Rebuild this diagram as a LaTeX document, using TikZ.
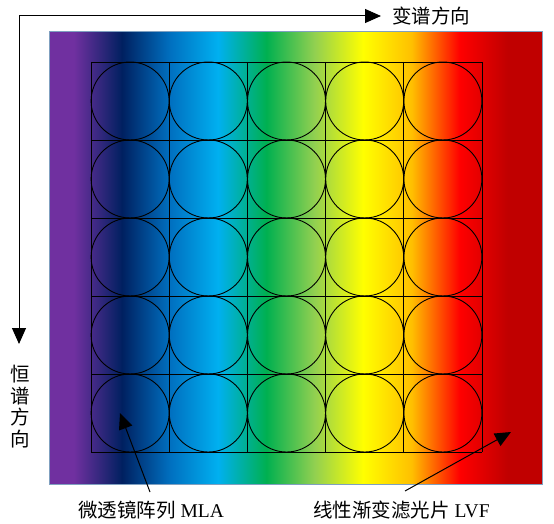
\documentclass[tikz,border=0pt]{standalone}
\usepackage{fontspec}
\setmainfont{Liberation Serif}
\newfontfamily\cjk{Noto Sans CJK SC}
\usetikzlibrary{arrows.meta}
\definecolor{cpurple}{HTML}{7030A0}
\definecolor{cnavy}{HTML}{002060}
\definecolor{cblue}{HTML}{0070C0}
\definecolor{clblue}{HTML}{00B0F0}
\definecolor{cgreen}{HTML}{00B050}
\definecolor{clgreen}{HTML}{92D050}
\definecolor{cyellow}{HTML}{FFFF00}
\definecolor{corange}{HTML}{FFC000}
\definecolor{cred}{HTML}{FF0000}
\definecolor{cdred}{HTML}{C00000}
\definecolor{framec}{HTML}{7FA0C0}
\pgfdeclarehorizontalshading{lvf}{100bp}{color(0bp)=(cpurple); color(27.5bp)=(cpurple); color(32.4bp)=(cnavy); color(37.3bp)=(cblue); color(42.15bp)=(clblue); color(47.05bp)=(cgreen); color(51.95bp)=(clgreen); color(56.85bp)=(cyellow); color(61.75bp)=(corange); color(66.65bp)=(cred); color(71.5bp)=(cdred); color(100bp)=(cdred)}
\begin{document}
\begin{tikzpicture}[x=1pt,y=-1pt,
  lbl/.style={inner sep=0pt, font=\fontsize{19.5}{21.5}\selectfont},
  arr/.style={line width=1pt, -{Triangle[length=16pt,width=14pt]}},
  darr/.style={line width=1pt, {Triangle[length=16pt,width=14pt]}-{Triangle[length=16pt,width=14pt]}},
  gridline/.style={line width=0.9pt, black}]
\useasboundingbox (0,0) rectangle (554,524);
% filter
\path[shading=lvf, draw=framec, line width=1pt] (49,32) rectangle (542,484);
% micro lens array grid
\foreach \i in {0,...,5} {
  \draw[gridline] ({91+78.2*\i},62) -- ({91+78.2*\i},452);
  \draw[gridline] (91,{62+78*\i}) -- (482,{62+78*\i});
}
\foreach \i in {0,...,4} {
  \foreach \j in {0,...,4} {
    \draw[gridline] ({91+78.2*(\i+0.5)},{62+78*(\j+0.5)}) circle (39);
  }
}
% direction labels
\node[lbl, anchor=west] (spec) at (392,16) {\cjk 变谱方向};
\node[lbl, align=center, anchor=north] (const) at (20,365) {\cjk 恒\\\cjk 谱\\\cjk 方\\\cjk 向};
\coordinate (htip) at (381,16);
\coordinate (vtip) at (19,344);
\draw[darr] (vtip) |- (htip);
% bottom labels
\node[lbl, anchor=west] (mla) at (78,510) {\cjk 微透镜阵列\rmfamily{} MLA};
\node[lbl, anchor=west] (lvf) at (313,510) {\cjk 线性渐变滤光片\rmfamily{} LVF};
\coordinate (mlatail) at (150,492);
\coordinate (mlatip) at (120,413);
\coordinate (lvftail) at (405,491);
\coordinate (lvftip) at (511,432);
\draw[arr] (mlatail) -- (mlatip);
\draw[arr] (lvftail) -- (lvftip);
\end{tikzpicture}
\end{document}
